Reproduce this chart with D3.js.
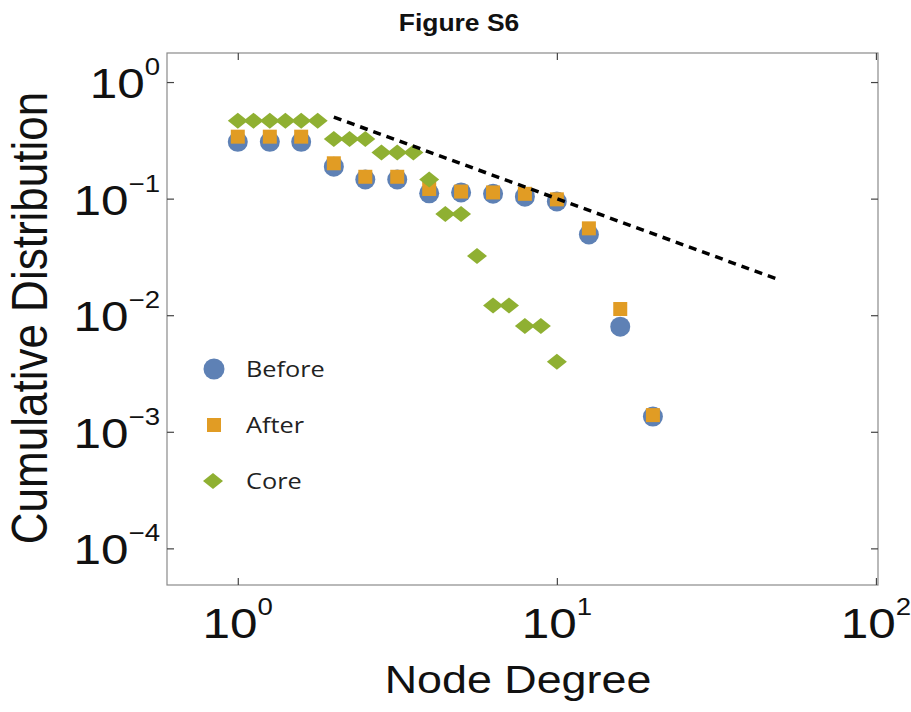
<!DOCTYPE html>
<html>
<head>
<meta charset="utf-8">
<script src="https://cdn.jsdelivr.net/npm/d3@7/dist/d3.min.js"></script>
<style>
  body { margin: 0; background: #fff; }
  svg { display: block; }
</style>
</head>
<body>
<svg id="chart" width="911" height="712"></svg>
<script>
// data
const beforeDeg = [1, 1.26, 1.58, 2, 2.51, 3.16, 3.98, 5.01, 6.31, 7.94, 10, 12.6, 15.8, 20];
const beforeCum = [0.307, 0.307, 0.307, 0.188, 0.146, 0.146, 0.111, 0.113, 0.110, 0.104, 0.0944, 0.0492, 0.00797, 0.00135];

const afterDeg = [1, 1.26, 1.58, 2, 2.51, 3.16, 3.98, 5.01, 6.31, 7.94, 10, 12.6, 15.8, 20];
const afterCum = [0.340, 0.340, 0.340, 0.201, 0.154, 0.154, 0.121, 0.115, 0.113, 0.110, 0.0986, 0.0556, 0.0113, 0.00139];

const coreDeg = [1, 1.12, 1.26, 1.41, 1.58, 1.78, 2, 2.24, 2.51, 2.82, 3.16, 3.55, 3.98, 4.47, 5.01, 5.62, 6.31, 7.08, 7.94, 8.91, 10];
const coreCum = [0.466, 0.466, 0.466, 0.466, 0.466, 0.466, 0.324, 0.324, 0.324, 0.249, 0.249, 0.249, 0.146, 0.0738, 0.0738, 0.0322, 0.0121, 0.0121, 0.00808, 0.00808, 0.00399];

// dashed guide, slope -1
const guideDeg = [2, 50];
const guideCum = [0.5, 0.02];

const xTicks = [1, 10, 100];
const xTickExp = ["0", "1", "2"];
const yTicks = [1, 0.1, 0.01, 0.001, 0.0001];
const yTickExp = ["0", "\u22121", "\u22122", "\u22123", "\u22124"];

const seriesNames = ["Before", "After", "Core"];
const colBlue = "#5E81B5", colOrange = "#E19C24", colGreen = "#8FB032";

// layout
const plotLeft = 167, plotRight = 878, plotTop = 53, plotBottom = 585;
const stretch = 1.15; // the figure's lettering is a bit wide

const svg = d3.select("#chart");

const x = d3.scaleLog().domain([0.6, 101.5]).range([plotLeft, plotRight]);
const y = d3.scaleLog().domain([4.85e-5, 1.775]).range([plotBottom, plotTop]);

// frame
svg.append("rect")
    .attr("x", plotLeft).attr("y", plotTop)
    .attr("width", plotRight - plotLeft).attr("height", plotBottom - plotTop)
    .attr("fill", "none").attr("stroke", "#8a8a8a").attr("stroke-width", 1.2);

// inward ticks on all four sides
function tickAxis(axis, tx, ty) {
  const g = svg.append("g")
      .attr("transform", "translate(" + tx + "," + ty + ")")
      .call(axis.tickSizeInner(-7).tickSizeOuter(0).tickFormat(""));
  g.select(".domain").remove();
  g.selectAll(".tick line").attr("stroke", "#444").attr("stroke-width", 1.2);
}
tickAxis(d3.axisBottom(x).tickValues(xTicks), 0, plotBottom);
tickAxis(d3.axisTop(x).tickValues(xTicks), 0, plotTop);
tickAxis(d3.axisLeft(y).tickValues(yTicks), plotLeft, 0);
tickAxis(d3.axisRight(y).tickValues(yTicks), plotRight, 0);

// power-of-ten labels
const labFont = "'Liberation Sans', Arial, sans-serif";
xTicks.forEach((v, i) => {
  const t = svg.append("text")
      .attr("transform", "translate(" + x(v) + ",638) scale(" + stretch + ",1)")
      .attr("text-anchor", "middle")
      .attr("font-family", labFont).attr("font-size", 43).attr("fill", "#111");
  t.append("tspan").text("10");
  t.append("tspan").attr("dy", -23).attr("font-size", 24).text(xTickExp[i]);
});
yTicks.forEach((v, i) => {
  const t = svg.append("text")
      .attr("transform", "translate(160," + (y(v) + 16) + ") scale(" + stretch + ",1)")
      .attr("text-anchor", "end")
      .attr("font-family", labFont).attr("font-size", 43).attr("fill", "#111");
  t.append("tspan").text("10");
  t.append("tspan").attr("dy", -23).attr("font-size", 24).text(yTickExp[i]);
});

// axis titles and figure title
svg.append("text")
    .attr("transform", "translate(518,693) scale(" + stretch + ",1)")
    .attr("text-anchor", "middle")
    .attr("font-family", labFont).attr("font-size", 39).attr("fill", "#111")
    .text("Node Degree");

svg.append("text")
    .attr("transform", "translate(47,318) scale(" + stretch + ",1) rotate(-90)")
    .attr("text-anchor", "middle")
    .attr("font-family", labFont).attr("font-size", 44).attr("fill", "#111")
    .text("Cumulative Distribution");

svg.append("text")
    .attr("transform", "translate(459,31) scale(" + stretch + ",1)")
    .attr("text-anchor", "middle")
    .attr("font-family", labFont).attr("font-size", 23).attr("font-weight", "bold").attr("fill", "#111")
    .text("Figure S6");

// markers
const diamond = "M0,-8L10,0L0,8L-10,0Z";
const sq = 14;

svg.append("g").selectAll("circle")
    .data(beforeDeg.map((d, i) => [d, beforeCum[i]]))
    .join("circle")
    .attr("cx", d => x(d[0])).attr("cy", d => y(d[1]))
    .attr("r", 10).attr("fill", colBlue);

svg.append("g").selectAll("rect")
    .data(afterDeg.map((d, i) => [d, afterCum[i]]))
    .join("rect")
    .attr("x", d => x(d[0]) - sq / 2).attr("y", d => y(d[1]) - sq / 2)
    .attr("width", sq).attr("height", sq).attr("fill", colOrange);

svg.append("g").selectAll("path")
    .data(coreDeg.map((d, i) => [d, coreCum[i]]))
    .join("path")
    .attr("transform", d => "translate(" + x(d[0]) + "," + y(d[1]) + ")")
    .attr("d", diamond).attr("fill", colGreen);

// guide line
svg.append("path")
    .datum(guideDeg.map((d, i) => [d, guideCum[i]]))
    .attr("d", d3.line().x(d => x(d[0])).y(d => y(d[1])))
    .attr("fill", "none").attr("stroke", "#000")
    .attr("stroke-width", 3.5).attr("stroke-dasharray", "8,6");

// legend
const legX = 214, legY = 369, legStep = 56;
const legend = svg.append("g");
seriesNames.forEach((name, i) => {
  const cy = legY + i * legStep;
  if (i === 0) legend.append("circle").attr("cx", legX).attr("cy", cy).attr("r", 10.5).attr("fill", colBlue);
  if (i === 1) legend.append("rect").attr("x", legX - 7).attr("y", cy - 7).attr("width", 14).attr("height", 14).attr("fill", colOrange);
  if (i === 2) legend.append("path").attr("transform", "translate(" + (legX - 1) + "," + cy + ")").attr("d", diamond).attr("fill", colGreen);
  legend.append("text")
      .attr("transform", "translate(246," + (cy + 7.5) + ") scale(" + stretch + ",1)")
      .attr("font-family", "'Open Sans', 'Noto Sans', sans-serif").attr("font-size", 22).attr("fill", "#222")
      .text(name);
});
</script>
</body>
</html>
